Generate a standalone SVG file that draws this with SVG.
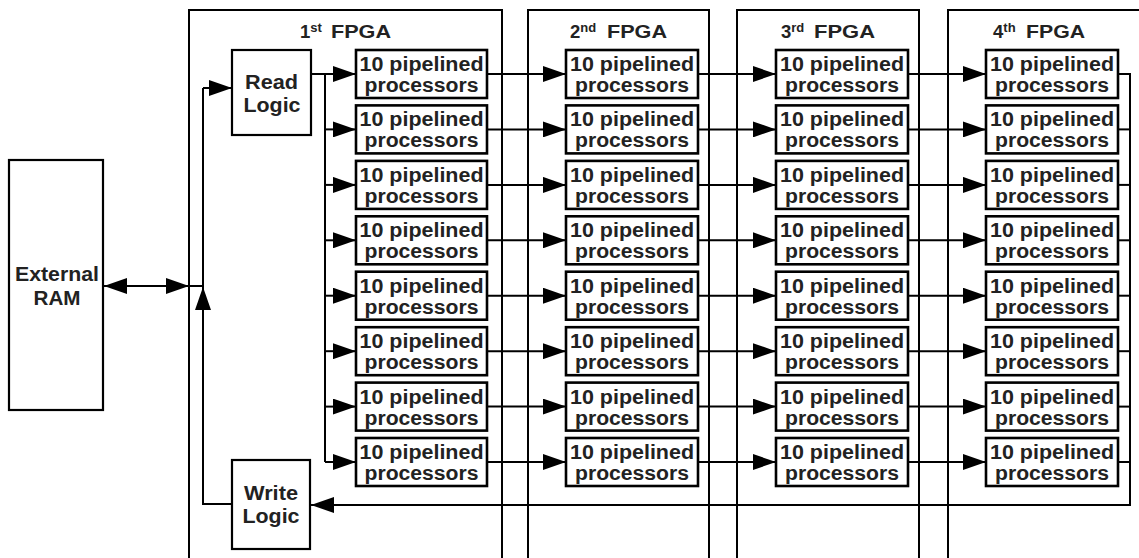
<svg xmlns="http://www.w3.org/2000/svg" width="1139" height="558" viewBox="0 0 1139 558">
<style>
.frame{fill:none;stroke:#000;stroke-width:2}
.box{fill:#fff;stroke:#000;stroke-width:2.2}
.proc{fill:#fff;stroke:#000;stroke-width:2.6}
.ln{fill:none;stroke:#000;stroke-width:2}
.arr{fill:none;stroke:#000;stroke-width:2;marker-end:url(#ah)}
text{font-family:"Liberation Sans",Arial,sans-serif;font-weight:bold;fill:#222}
.pt{font-size:19.5px;text-anchor:middle}
.lt{font-size:19.5px;text-anchor:middle}
.tt{font-size:18.5px}
.sup{font-size:13px}
</style>
<defs>
<marker id="ah" markerUnits="userSpaceOnUse" markerWidth="23" markerHeight="16" refX="23" refY="8" orient="auto-start-reverse" viewBox="0 0 23 16">
<path d="M0,0 L23,8 L0,16 z" fill="#000"/>
</marker>
</defs>

<g id="fpga1"><rect class="frame" x="189" y="10" width="313" height="600"/><text class="tt" x="300" y="38">1<tspan class="sup" dy="-6">st</tspan></text><text class="tt" x="331" y="38" textLength="60" lengthAdjust="spacingAndGlyphs">FPGA</text></g>
<g id="fpga2"><rect class="frame" x="528" y="10" width="181" height="600"/><text class="tt" x="570" y="38">2<tspan class="sup" dy="-6">nd</tspan></text><text class="tt" x="607" y="38" textLength="60" lengthAdjust="spacingAndGlyphs">FPGA</text></g>
<g id="fpga3"><rect class="frame" x="737" y="10" width="182" height="600"/><text class="tt" x="781" y="38">3<tspan class="sup" dy="-6">rd</tspan></text><text class="tt" x="814" y="38" textLength="61" lengthAdjust="spacingAndGlyphs">FPGA</text></g>
<g id="fpga4"><rect class="frame" x="948" y="10" width="220" height="600"/><text class="tt" x="993" y="38">4<tspan class="sup" dy="-6">th</tspan></text><text class="tt" x="1026" y="38" textLength="59" lengthAdjust="spacingAndGlyphs">FPGA</text></g>

<g id="connectors">
<line class="arr" x1="203" y1="286" x2="104" y2="286"/>
<line class="arr" x1="110" y1="286" x2="189" y2="286"/>
<line class="ln" x1="189" y1="286" x2="203" y2="286"/>
<polyline class="ln" points="232,504 203,504 203,88"/>
<line class="arr" x1="203" y1="88" x2="232" y2="88"/>
<line class="arr" x1="203" y1="320" x2="203" y2="287"/>
<line class="arr" x1="311" y1="74" x2="356" y2="74"/>
<line class="ln" x1="325" y1="74" x2="325" y2="462"/>
<line class="arr" x1="325" y1="129.4" x2="356" y2="129.4"/>
<line class="arr" x1="325" y1="184.9" x2="356" y2="184.9"/>
<line class="arr" x1="325" y1="240.3" x2="356" y2="240.3"/>
<line class="arr" x1="325" y1="295.7" x2="356" y2="295.7"/>
<line class="arr" x1="325" y1="351.2" x2="356" y2="351.2"/>
<line class="arr" x1="325" y1="406.6" x2="356" y2="406.6"/>
<line class="arr" x1="325" y1="462" x2="356" y2="462"/>

<line class="arr" x1="488" y1="74" x2="566" y2="74"/><line class="arr" x1="698" y1="74" x2="776" y2="74"/><line class="arr" x1="908" y1="74" x2="986" y2="74"/><line class="ln" x1="1118" y1="74" x2="1130" y2="74"/>
<line class="arr" x1="488" y1="129.4" x2="566" y2="129.4"/><line class="arr" x1="698" y1="129.4" x2="776" y2="129.4"/><line class="arr" x1="908" y1="129.4" x2="986" y2="129.4"/><line class="ln" x1="1118" y1="129.4" x2="1130" y2="129.4"/>
<line class="arr" x1="488" y1="184.9" x2="566" y2="184.9"/><line class="arr" x1="698" y1="184.9" x2="776" y2="184.9"/><line class="arr" x1="908" y1="184.9" x2="986" y2="184.9"/><line class="ln" x1="1118" y1="184.9" x2="1130" y2="184.9"/>
<line class="arr" x1="488" y1="240.3" x2="566" y2="240.3"/><line class="arr" x1="698" y1="240.3" x2="776" y2="240.3"/><line class="arr" x1="908" y1="240.3" x2="986" y2="240.3"/><line class="ln" x1="1118" y1="240.3" x2="1130" y2="240.3"/>
<line class="arr" x1="488" y1="295.7" x2="566" y2="295.7"/><line class="arr" x1="698" y1="295.7" x2="776" y2="295.7"/><line class="arr" x1="908" y1="295.7" x2="986" y2="295.7"/><line class="ln" x1="1118" y1="295.7" x2="1130" y2="295.7"/>
<line class="arr" x1="488" y1="351.2" x2="566" y2="351.2"/><line class="arr" x1="698" y1="351.2" x2="776" y2="351.2"/><line class="arr" x1="908" y1="351.2" x2="986" y2="351.2"/><line class="ln" x1="1118" y1="351.2" x2="1130" y2="351.2"/>
<line class="arr" x1="488" y1="406.6" x2="566" y2="406.6"/><line class="arr" x1="698" y1="406.6" x2="776" y2="406.6"/><line class="arr" x1="908" y1="406.6" x2="986" y2="406.6"/><line class="ln" x1="1118" y1="406.6" x2="1130" y2="406.6"/>
<line class="arr" x1="488" y1="462" x2="566" y2="462"/><line class="arr" x1="698" y1="462" x2="776" y2="462"/><line class="arr" x1="908" y1="462" x2="986" y2="462"/><line class="ln" x1="1118" y1="462" x2="1130" y2="462"/>

<polyline class="arr" points="1130,73 1130,505 311,505"/>
</g>

<g id="external-ram"><rect class="box" x="9" y="160" width="94" height="250"/><text class="lt" x="57" y="281" textLength="84" lengthAdjust="spacingAndGlyphs">External</text><text class="lt" x="57" y="305" textLength="47" lengthAdjust="spacingAndGlyphs">RAM</text></g>
<g id="read-logic"><rect class="box" x="232" y="50" width="79" height="85"/><text class="lt" x="271.5" y="89" textLength="53" lengthAdjust="spacingAndGlyphs">Read</text><text class="lt" x="272" y="112" textLength="57" lengthAdjust="spacingAndGlyphs">Logic</text></g>
<g id="write-logic"><rect class="box" x="232" y="460" width="78" height="89"/><text class="lt" x="271" y="500" textLength="54" lengthAdjust="spacingAndGlyphs">Write</text><text class="lt" x="271" y="523" textLength="57" lengthAdjust="spacingAndGlyphs">Logic</text></g>

<g id="p1-1" transform="translate(356,50)"><rect class="proc" width="131" height="48"/><text class="pt" x="65.5" y="21" textLength="124" lengthAdjust="spacingAndGlyphs">10 pipelined</text><text class="pt" x="65.5" y="42" textLength="114" lengthAdjust="spacingAndGlyphs">processors</text></g>
<g id="p1-2" transform="translate(356,105.4)"><rect class="proc" width="131" height="48"/><text class="pt" x="65.5" y="21" textLength="124" lengthAdjust="spacingAndGlyphs">10 pipelined</text><text class="pt" x="65.5" y="42" textLength="114" lengthAdjust="spacingAndGlyphs">processors</text></g>
<g id="p1-3" transform="translate(356,160.9)"><rect class="proc" width="131" height="48"/><text class="pt" x="65.5" y="21" textLength="124" lengthAdjust="spacingAndGlyphs">10 pipelined</text><text class="pt" x="65.5" y="42" textLength="114" lengthAdjust="spacingAndGlyphs">processors</text></g>
<g id="p1-4" transform="translate(356,216.3)"><rect class="proc" width="131" height="48"/><text class="pt" x="65.5" y="21" textLength="124" lengthAdjust="spacingAndGlyphs">10 pipelined</text><text class="pt" x="65.5" y="42" textLength="114" lengthAdjust="spacingAndGlyphs">processors</text></g>
<g id="p1-5" transform="translate(356,271.7)"><rect class="proc" width="131" height="48"/><text class="pt" x="65.5" y="21" textLength="124" lengthAdjust="spacingAndGlyphs">10 pipelined</text><text class="pt" x="65.5" y="42" textLength="114" lengthAdjust="spacingAndGlyphs">processors</text></g>
<g id="p1-6" transform="translate(356,327.2)"><rect class="proc" width="131" height="48"/><text class="pt" x="65.5" y="21" textLength="124" lengthAdjust="spacingAndGlyphs">10 pipelined</text><text class="pt" x="65.5" y="42" textLength="114" lengthAdjust="spacingAndGlyphs">processors</text></g>
<g id="p1-7" transform="translate(356,382.6)"><rect class="proc" width="131" height="48"/><text class="pt" x="65.5" y="21" textLength="124" lengthAdjust="spacingAndGlyphs">10 pipelined</text><text class="pt" x="65.5" y="42" textLength="114" lengthAdjust="spacingAndGlyphs">processors</text></g>
<g id="p1-8" transform="translate(356,438)"><rect class="proc" width="131" height="48"/><text class="pt" x="65.5" y="21" textLength="124" lengthAdjust="spacingAndGlyphs">10 pipelined</text><text class="pt" x="65.5" y="42" textLength="114" lengthAdjust="spacingAndGlyphs">processors</text></g>

<g id="p2-1" transform="translate(566,50)"><rect class="proc" width="132" height="48"/><text class="pt" x="66" y="21" textLength="124" lengthAdjust="spacingAndGlyphs">10 pipelined</text><text class="pt" x="66" y="42" textLength="114" lengthAdjust="spacingAndGlyphs">processors</text></g>
<g id="p2-2" transform="translate(566,105.4)"><rect class="proc" width="132" height="48"/><text class="pt" x="66" y="21" textLength="124" lengthAdjust="spacingAndGlyphs">10 pipelined</text><text class="pt" x="66" y="42" textLength="114" lengthAdjust="spacingAndGlyphs">processors</text></g>
<g id="p2-3" transform="translate(566,160.9)"><rect class="proc" width="132" height="48"/><text class="pt" x="66" y="21" textLength="124" lengthAdjust="spacingAndGlyphs">10 pipelined</text><text class="pt" x="66" y="42" textLength="114" lengthAdjust="spacingAndGlyphs">processors</text></g>
<g id="p2-4" transform="translate(566,216.3)"><rect class="proc" width="132" height="48"/><text class="pt" x="66" y="21" textLength="124" lengthAdjust="spacingAndGlyphs">10 pipelined</text><text class="pt" x="66" y="42" textLength="114" lengthAdjust="spacingAndGlyphs">processors</text></g>
<g id="p2-5" transform="translate(566,271.7)"><rect class="proc" width="132" height="48"/><text class="pt" x="66" y="21" textLength="124" lengthAdjust="spacingAndGlyphs">10 pipelined</text><text class="pt" x="66" y="42" textLength="114" lengthAdjust="spacingAndGlyphs">processors</text></g>
<g id="p2-6" transform="translate(566,327.2)"><rect class="proc" width="132" height="48"/><text class="pt" x="66" y="21" textLength="124" lengthAdjust="spacingAndGlyphs">10 pipelined</text><text class="pt" x="66" y="42" textLength="114" lengthAdjust="spacingAndGlyphs">processors</text></g>
<g id="p2-7" transform="translate(566,382.6)"><rect class="proc" width="132" height="48"/><text class="pt" x="66" y="21" textLength="124" lengthAdjust="spacingAndGlyphs">10 pipelined</text><text class="pt" x="66" y="42" textLength="114" lengthAdjust="spacingAndGlyphs">processors</text></g>
<g id="p2-8" transform="translate(566,438)"><rect class="proc" width="132" height="48"/><text class="pt" x="66" y="21" textLength="124" lengthAdjust="spacingAndGlyphs">10 pipelined</text><text class="pt" x="66" y="42" textLength="114" lengthAdjust="spacingAndGlyphs">processors</text></g>

<g id="p3-1" transform="translate(776,50)"><rect class="proc" width="132" height="48"/><text class="pt" x="66" y="21" textLength="124" lengthAdjust="spacingAndGlyphs">10 pipelined</text><text class="pt" x="66" y="42" textLength="114" lengthAdjust="spacingAndGlyphs">processors</text></g>
<g id="p3-2" transform="translate(776,105.4)"><rect class="proc" width="132" height="48"/><text class="pt" x="66" y="21" textLength="124" lengthAdjust="spacingAndGlyphs">10 pipelined</text><text class="pt" x="66" y="42" textLength="114" lengthAdjust="spacingAndGlyphs">processors</text></g>
<g id="p3-3" transform="translate(776,160.9)"><rect class="proc" width="132" height="48"/><text class="pt" x="66" y="21" textLength="124" lengthAdjust="spacingAndGlyphs">10 pipelined</text><text class="pt" x="66" y="42" textLength="114" lengthAdjust="spacingAndGlyphs">processors</text></g>
<g id="p3-4" transform="translate(776,216.3)"><rect class="proc" width="132" height="48"/><text class="pt" x="66" y="21" textLength="124" lengthAdjust="spacingAndGlyphs">10 pipelined</text><text class="pt" x="66" y="42" textLength="114" lengthAdjust="spacingAndGlyphs">processors</text></g>
<g id="p3-5" transform="translate(776,271.7)"><rect class="proc" width="132" height="48"/><text class="pt" x="66" y="21" textLength="124" lengthAdjust="spacingAndGlyphs">10 pipelined</text><text class="pt" x="66" y="42" textLength="114" lengthAdjust="spacingAndGlyphs">processors</text></g>
<g id="p3-6" transform="translate(776,327.2)"><rect class="proc" width="132" height="48"/><text class="pt" x="66" y="21" textLength="124" lengthAdjust="spacingAndGlyphs">10 pipelined</text><text class="pt" x="66" y="42" textLength="114" lengthAdjust="spacingAndGlyphs">processors</text></g>
<g id="p3-7" transform="translate(776,382.6)"><rect class="proc" width="132" height="48"/><text class="pt" x="66" y="21" textLength="124" lengthAdjust="spacingAndGlyphs">10 pipelined</text><text class="pt" x="66" y="42" textLength="114" lengthAdjust="spacingAndGlyphs">processors</text></g>
<g id="p3-8" transform="translate(776,438)"><rect class="proc" width="132" height="48"/><text class="pt" x="66" y="21" textLength="124" lengthAdjust="spacingAndGlyphs">10 pipelined</text><text class="pt" x="66" y="42" textLength="114" lengthAdjust="spacingAndGlyphs">processors</text></g>

<g id="p4-1" transform="translate(986,50)"><rect class="proc" width="132" height="48"/><text class="pt" x="66" y="21" textLength="124" lengthAdjust="spacingAndGlyphs">10 pipelined</text><text class="pt" x="66" y="42" textLength="114" lengthAdjust="spacingAndGlyphs">processors</text></g>
<g id="p4-2" transform="translate(986,105.4)"><rect class="proc" width="132" height="48"/><text class="pt" x="66" y="21" textLength="124" lengthAdjust="spacingAndGlyphs">10 pipelined</text><text class="pt" x="66" y="42" textLength="114" lengthAdjust="spacingAndGlyphs">processors</text></g>
<g id="p4-3" transform="translate(986,160.9)"><rect class="proc" width="132" height="48"/><text class="pt" x="66" y="21" textLength="124" lengthAdjust="spacingAndGlyphs">10 pipelined</text><text class="pt" x="66" y="42" textLength="114" lengthAdjust="spacingAndGlyphs">processors</text></g>
<g id="p4-4" transform="translate(986,216.3)"><rect class="proc" width="132" height="48"/><text class="pt" x="66" y="21" textLength="124" lengthAdjust="spacingAndGlyphs">10 pipelined</text><text class="pt" x="66" y="42" textLength="114" lengthAdjust="spacingAndGlyphs">processors</text></g>
<g id="p4-5" transform="translate(986,271.7)"><rect class="proc" width="132" height="48"/><text class="pt" x="66" y="21" textLength="124" lengthAdjust="spacingAndGlyphs">10 pipelined</text><text class="pt" x="66" y="42" textLength="114" lengthAdjust="spacingAndGlyphs">processors</text></g>
<g id="p4-6" transform="translate(986,327.2)"><rect class="proc" width="132" height="48"/><text class="pt" x="66" y="21" textLength="124" lengthAdjust="spacingAndGlyphs">10 pipelined</text><text class="pt" x="66" y="42" textLength="114" lengthAdjust="spacingAndGlyphs">processors</text></g>
<g id="p4-7" transform="translate(986,382.6)"><rect class="proc" width="132" height="48"/><text class="pt" x="66" y="21" textLength="124" lengthAdjust="spacingAndGlyphs">10 pipelined</text><text class="pt" x="66" y="42" textLength="114" lengthAdjust="spacingAndGlyphs">processors</text></g>
<g id="p4-8" transform="translate(986,438)"><rect class="proc" width="132" height="48"/><text class="pt" x="66" y="21" textLength="124" lengthAdjust="spacingAndGlyphs">10 pipelined</text><text class="pt" x="66" y="42" textLength="114" lengthAdjust="spacingAndGlyphs">processors</text></g>
</svg>
